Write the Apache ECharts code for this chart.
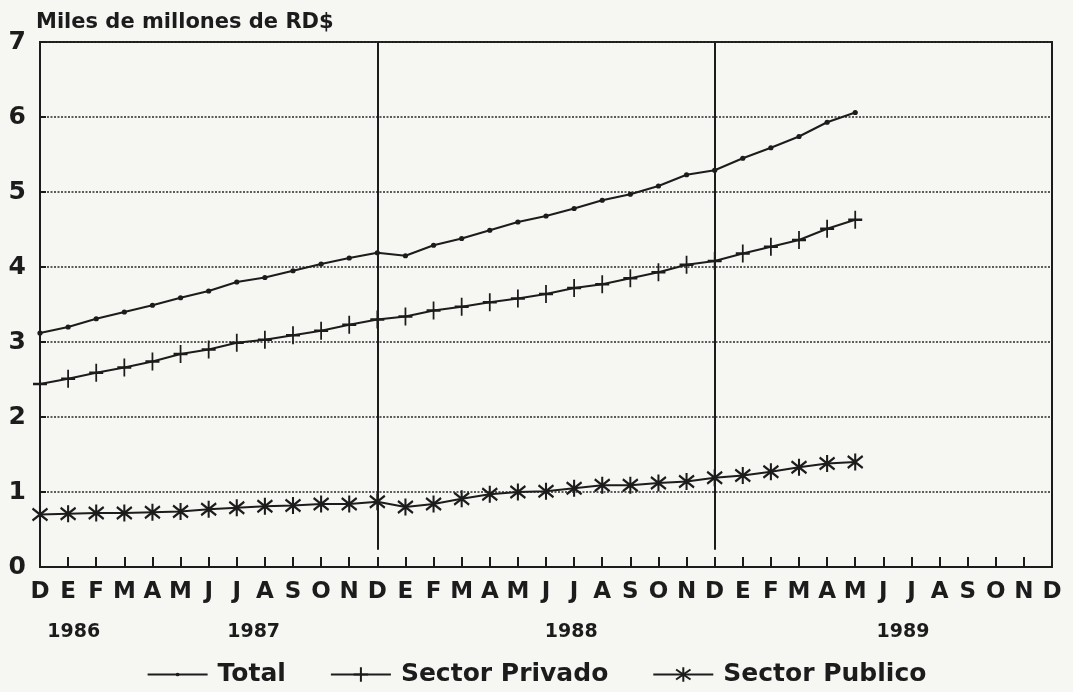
<!DOCTYPE html>
<html lang="es">
<head>
    <meta charset="UTF-8">
    <title>Miles de millones de RD$</title>
    <style>
        *{
            margin: 0;
            padding: 0;
        }
        body{
            background: #f6f6f3;
        }
    </style>
</head>
<body>
<div id="main" style="width: 1073px;height:692px;"></div>
<script src="https://cdn.jsdelivr.net/npm/echarts@6/dist/echarts.min.js"></script>
<script type="text/javascript">
    // meses: D 1986 ... D 1989
    var months = ['D','E','F','M','A','M','J','J','A','S','O','N',
        'D','E','F','M','A','M','J','J','A','S','O','N',
        'D','E','F','M','A','M','J','J','A','S','O','N','D'];
    var yearLabels = ['1986','1987','1988','1989'];
    var yearPos = [1.2, 7.6, 18.9, 30.7];   // posicion en meses desde D 1986
    var dividers = [12, 24];                // lineas verticales (D 1987, D 1988)

    var total = [3.12,3.20,3.31,3.40,3.49,3.59,3.68,3.80,3.86,3.95,4.04,4.12,
        4.19,4.15,4.29,4.38,4.49,4.60,4.68,4.78,4.89,4.97,5.08,5.23,
        5.29,5.45,5.59,5.74,5.93,6.06];
    var privado = [2.44,2.51,2.59,2.66,2.74,2.84,2.90,2.99,3.03,3.09,3.15,3.23,
        3.30,3.34,3.42,3.47,3.53,3.58,3.64,3.72,3.77,3.85,3.93,4.03,
        4.08,4.18,4.27,4.36,4.51,4.63];
    var publico = [0.70,0.71,0.72,0.72,0.73,0.74,0.77,0.79,0.81,0.82,0.84,0.84,
        0.87,0.80,0.84,0.91,0.97,1.00,1.01,1.05,1.09,1.09,1.12,1.14,
        1.19,1.22,1.27,1.33,1.38,1.40];

    var ink = '#1c1c1c';
    var font = 'DejaVu Sans, sans-serif';

    // punto pequeño dentro de una caja de 20x20 (para que la leyenda no lo agrande)
    var dotSymbol = 'path://M-10,-10M10,10M-2.6,0A2.6,2.6,0,1,1,2.6,0A2.6,2.6,0,1,1,-2.6,0Z';
    var crossSymbol = 'path://M0,-10L0,10M-8,0L8,0';
    var starSymbol = 'path://M0,-10L0,10M-7,-7L7,7M-7,7L7,-7';

    var myChart = echarts.init(document.getElementById('main'));

    var markData = [];
    for(let i = 0;i<dividers.length;i++){
        markData.push([{coord:[dividers[i],0.23]},{coord:[dividers[i],7]}]);
    }

    myChart.setOption({
        backgroundColor: '#f6f6f3',
        animation: false,
        title: {
            text: 'Miles de millones de RD$',
            left: 31,
            top: 7,
            textStyle: {color: ink, fontFamily: font, fontWeight: 'bold', fontSize: 21}
        },
        legend: {
            bottom: 0,
            left: 'center',
            itemWidth: 60,
            itemHeight: 18,
            itemGap: 44,
            textStyle: {color: ink, fontFamily: font, fontWeight: 'bold', fontSize: 25, padding: [0,0,0,5]},
            data: ['Total','Sector Privado','Sector Publico']
        },
        grid: {
            left: 40,
            right: 21,
            top: 42,
            bottom: 125,
            show: true,
            borderColor: ink,
            borderWidth: 2,
            containLabel: false,
            outerBoundsMode: 'none'
        },
        xAxis: [
            {
                type: 'category',
                boundaryGap: false,
                data: months,
                axisLine: {lineStyle: {color: ink, width: 2}},
                axisTick: {inside: true, length: 10, alignWithLabel: true, lineStyle: {color: ink, width: 2}},
                axisLabel: {
                    interval: 0,
                    margin: 14,
                    color: ink,
                    fontFamily: font,
                    fontWeight: 'bold',
                    fontSize: 23
                },
                splitLine: {show: false}
            },
            {
                type: 'value',
                position: 'bottom',
                min: 0,
                max: 36,
                interval: 0.1,
                axisLine: {show: false},
                axisTick: {show: false},
                splitLine: {show: false},
                axisLabel: {
                    margin: 56,
                    color: ink,
                    fontFamily: font,
                    fontWeight: 'bold',
                    fontSize: 19,
                    showMinLabel: true,
                    showMaxLabel: true,
                    formatter: function(value){
                        let v = Math.round(value*10)/10;
                        for(let i = 0;i<yearPos.length;i++){
                            if(Math.abs(yearPos[i]-v) < 0.01){
                                return yearLabels[i];
                            }
                        }
                        return '';
                    }
                }
            }
        ],
        yAxis: {
            type: 'value',
            min: 0,
            max: 7,
            interval: 1,
            axisLine: {show: true, lineStyle: {color: ink, width: 2}},
            axisTick: {show: true, inside: true, length: 6, lineStyle: {color: ink, width: 2}},
            axisLabel: {
                margin: 14,
                color: ink,
                fontFamily: font,
                fontWeight: 'bold',
                fontSize: 25
            },
            splitLine: {
                show: true,
                lineStyle: {color: '#2a2a2a', width: 1.5, type: [2, 1.5]}
            }
        },
        series: [
            {
                name: 'Total',
                type: 'line',
                data: total,
                symbol: dotSymbol,
                symbolSize: 20,
                color: ink,
                lineStyle: {color: ink, width: 2},
                itemStyle: {color: ink},
                markLine: {
                    silent: true,
                    symbol: ['none','none'],
                    label: {show: false},
                    lineStyle: {color: ink, width: 2, type: 'solid'},
                    data: markData
                }
            },
            {
                name: 'Sector Privado',
                type: 'line',
                data: privado,
                symbol: crossSymbol,
                symbolSize: [14, 18],
                color: ink,
                lineStyle: {color: ink, width: 2},
                itemStyle: {color: ink, borderColor: ink, borderWidth: 2}
            },
            {
                name: 'Sector Publico',
                type: 'line',
                data: publico,
                symbol: starSymbol,
                symbolSize: [15, 17],
                color: ink,
                lineStyle: {color: ink, width: 2},
                itemStyle: {color: ink, borderColor: ink, borderWidth: 2.2}
            }
        ]
    });
</script>
</body>
</html>
